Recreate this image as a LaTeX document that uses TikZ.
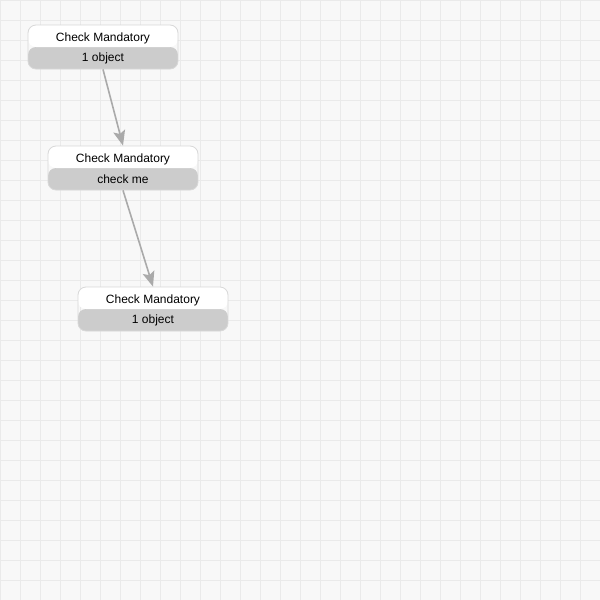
\documentclass[tikz,border=0pt]{standalone}
\usepackage{fontspec}
\setmainfont{Liberation Sans}
\usetikzlibrary{arrows.meta}
\definecolor{bg}{HTML}{F8F8F8}
\definecolor{gridc}{HTML}{EAEAEA}
\definecolor{bodyc}{HTML}{CCCCCC}
\definecolor{edgec}{HTML}{D8D8D8}
\definecolor{arrowc}{HTML}{AAAAAA}
\tikzset{
  card/.style={draw=edgec, line width=0.8pt, rounded corners=8pt, minimum width=150pt, minimum height=44pt, inner sep=0pt,
    path picture={\fill[bodyc] ([yshift=0pt]path picture bounding box.west) rectangle (path picture bounding box.south east);
                  \fill[white] (path picture bounding box.north west) rectangle (path picture bounding box.east);}},
  cardtext/.style={font=\fontsize{12pt}{14pt}\selectfont, text=black, inner sep=0pt},
  flow/.style={draw=arrowc, line width=1.6pt, -{Stealth[length=15pt,width=12pt,inset=3pt]}}
}
\begin{document}
\begin{tikzpicture}[x=1pt,y=-1pt]
\useasboundingbox (0,0) rectangle (600,600);
\fill[bg] (0,0) rectangle (600,600);
\foreach \i in {0,...,29} {
  \draw[gridc, line width=0.8pt] (20*\i+0.5,0) -- (20*\i+0.5,600);
  \draw[gridc, line width=0.8pt] (0,20*\i+0.5) -- (600,20*\i+0.5);
}
\node[card] (b1) at (103,47) {};
\node[cardtext] (h1) at (103,38) {Check Mandatory};
\node[cardtext] (t1) at (103,58.5) {1 object};
\node[card] (b2) at (123,168) {};
\node[cardtext] (h2) at (123,159) {Check Mandatory};
\node[cardtext] (t2) at (123,179.5) {check me};
\node[card] (b3) at (153,309) {};
\node[cardtext] (h3) at (153,300) {Check Mandatory};
\node[cardtext] (t3) at (153,320.5) {1 object};
\draw[flow] (b1.south) -- (b2.north);
\draw[flow] (b2.south) -- (b3.north);
\end{tikzpicture}
\end{document}
